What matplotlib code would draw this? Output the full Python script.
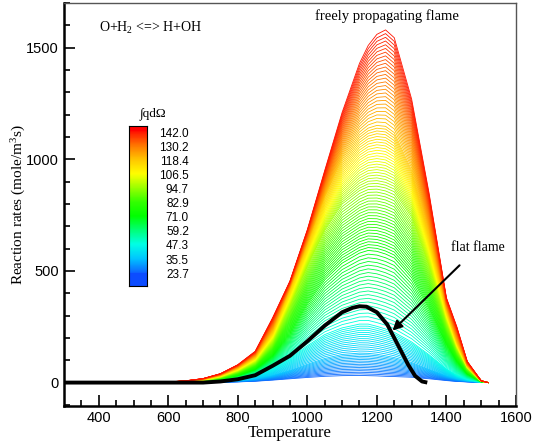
import numpy as np
import matplotlib
matplotlib.use("Agg")
import matplotlib.pyplot as plt
from matplotlib.colors import LinearSegmentedColormap

# ── 1. Data ────────────────────────────────────────────────
temperature = [550, 600, 650, 700, 750, 800, 850, 900, 950, 1000, 1050, 1100,
               1150, 1175, 1200, 1225, 1250, 1300, 1350, 1400, 1430, 1460, 1500, 1520]

# anchor curves of the family, one per colour level
anchor_levels = [23.7, 35.5, 47.3, 71.0, 94.7, 118.4, 142.0]
rate_24 = [0, 0, 0, 0, 1, 3, 6, 11, 17, 23, 28, 31, 32, 31, 30, 28, 27, 24, 17, 9, 5, 3, 1, 0]
rate_36 = [0, 0, 0, 1, 4, 9, 17, 32, 55, 82, 108, 126, 132, 131, 127, 120, 112, 90, 60, 30, 17, 8, 1, 0]
rate_47 = [0, 0, 0, 3, 8, 18, 35, 65, 110, 165, 215, 245, 262, 262, 252, 240, 225, 182, 125, 62, 32, 15, 2, 0]
rate_71 = [0, 0, 2, 6, 15, 32, 60, 120, 220, 350, 460, 535, 580, 592, 588, 576, 558, 470, 330, 170, 95, 40, 4, 0]
rate_95 = [0, 1, 4, 10, 24, 50, 90, 180, 340, 520, 680, 800, 860, 878, 880, 872, 855, 740, 520, 270, 150, 65, 6, 0]
rate_118 = [0, 2, 6, 14, 32, 65, 115, 230, 420, 620, 830, 1000, 1110, 1140, 1152, 1148, 1120, 950, 660, 330, 185, 75, 8, 0]
rate_142 = [0, 3, 8, 18, 40, 80, 140, 290, 455, 685, 950, 1210, 1430, 1510, 1560, 1580, 1545, 1270, 850, 380, 250, 95, 8, 0]

# flat flame (black curve)
flat_T = [300, 700, 750, 800, 850, 900, 950, 1000, 1050, 1100, 1130, 1150,
          1170, 1200, 1230, 1260, 1290, 1310, 1330, 1345]
flat_rate = [0, 0, 5, 15, 33, 75, 120, 185, 255, 315, 335, 342,
             340, 315, 260, 170, 80, 30, 5, 0]

cbar_ticks = [23.7, 35.5, 47.3, 59.2, 71.0, 82.9, 94.7, 106.5, 118.4, 130.2, 142.0]
curves_per_step = [14, 14, 20, 22, 22, 26]

# ── 2. Colormap (tecplot-like) ─────────────────────────────
cmap = LinearSegmentedColormap.from_list("modern", [
    (0.0, (0.05, 0.40, 1.00)),
    (0.1, (0.00, 0.78, 1.00)),
    (0.2, (0.00, 1.00, 0.90)),
    (0.3, (0.00, 1.00, 0.47)),
    (0.4, (0.00, 1.00, 0.00)),
    (0.5, (0.20, 1.00, 0.00)),
    (0.6, (0.60, 1.00, 0.00)),
    (0.7, (1.00, 1.00, 0.00)),
    (0.8, (1.00, 0.78, 0.00)),
    (0.9, (1.00, 0.47, 0.00)),
    (1.0, (1.00, 0.08, 0.00)),
])
cmap.set_under((0.05, 0.30, 1.00))
cmap.set_over((1.00, 0.00, 0.00))
vmin, vmax = cbar_ticks[0], cbar_ticks[-1]

plt.rcParams['font.family'] = ['Liberation Sans', 'DejaVu Sans']
plt.rcParams['mathtext.fontset'] = 'custom'
plt.rcParams['mathtext.rm'] = 'Liberation Serif'
plt.rcParams['mathtext.it'] = 'Liberation Serif:italic'
serif = ['Liberation Serif', 'DejaVu Serif']

fig = plt.figure(figsize=(5.39, 4.45), dpi=100)
ax = fig.add_axes([0.1187, 0.0876, 0.8385, 0.9054])

# ── 3. Family of curves ───────────────────────────────────
anchors = np.array([rate_24, rate_36, rate_47, rate_71, rate_95, rate_118, rate_142], dtype=float)
for i in range(len(anchor_levels) - 1):
    lo, hi = anchor_levels[i], anchor_levels[i + 1]
    n = curves_per_step[i]
    for k in range(n):
        w = k / n
        lev = lo + w * (hi - lo)
        r = (1 - w) * anchors[i] + w * anchors[i + 1]
        ax.plot(temperature, r, color=cmap((lev - vmin) / (vmax - vmin)), lw=0.6)
ax.plot(temperature, anchors[-1], color=cmap(1.0), lw=0.6)

ax.plot(flat_T, flat_rate, color='black', lw=2.8, solid_capstyle='butt')

# ── 4. Axes styling ───────────────────────────────────────
ax.set_xlim(300, 1600)
ax.set_ylim(-105, 1700)
ax.set_xticks([400, 600, 800, 1000, 1200, 1400, 1600])
ax.set_xticks(np.arange(350, 1600, 50), minor=True)
ax.set_yticks([0, 500, 1000, 1500])
ax.set_yticks(np.arange(-100, 1701, 100), minor=True)
ax.tick_params(which='both', direction='in', top=False, right=False,
               labelsize=10.5, width=1.2, color='black')
ax.tick_params(which='major', length=8)
ax.tick_params(which='minor', length=4)
for s in ['left', 'bottom']:
    ax.spines[s].set_linewidth(1.8)
    ax.spines[s].set_color('black')
for s in ['top', 'right']:
    ax.spines[s].set_linewidth(1.0)
    ax.spines[s].set_color('#555555')

ax.set_xlabel("Temperature", family=serif, fontsize=12, va='center')
ax.xaxis.set_label_coords(0.5, -0.066)
ax.set_ylabel("Reaction rates (mole/m$^3$s)", family=serif, fontsize=11, va='center')
ax.yaxis.set_label_coords(-0.099, 0.5)

ax.text(400, 1590, "O+H$_2$ <=> H+OH", family=serif, fontsize=10, va='center')
ax.text(1229, 1640, "freely propagating flame", family=serif, fontsize=10.5,
        ha='center', va='center')
ax.annotate("flat flame", xy=(1245, 233), xytext=(1491, 606),
            family=serif, fontsize=10, ha='center', va='center',
            arrowprops=dict(arrowstyle='-|>', color='black', lw=1.5,
                            mutation_scale=14, shrinkA=9, shrinkB=0))

# ── 5. Colour legend ──────────────────────────────────────
cax = fig.add_axes([0.2393, 0.357, 0.0334, 0.3596])
lo_v, hi_v = 12.8, 147.0
grad = np.linspace(lo_v, hi_v, 256).reshape(-1, 1)
cax.imshow(grad, aspect='auto', origin='lower', cmap=cmap, vmin=vmin, vmax=vmax,
           extent=[0, 1, lo_v, hi_v])
cax.set_xticks([])
cax.set_yticks(cbar_ticks)
cax.set_yticklabels([f"{v:.1f}" for v in cbar_ticks])
cax.yaxis.tick_right()
cax.tick_params(axis='y', length=0, labelsize=8.5, pad=14)
for lab in cax.get_yticklabels():
    lab.set_horizontalalignment('right')
    lab.set_x(2.25)
for s in cax.spines.values():
    s.set_linewidth(0.8)
cax.text(1.33, 1.075, "∫qdΩ", transform=cax.transAxes, family=serif,
         fontsize=9.5, ha='center', va='center')

fig.savefig("out.png", dpi=100)
